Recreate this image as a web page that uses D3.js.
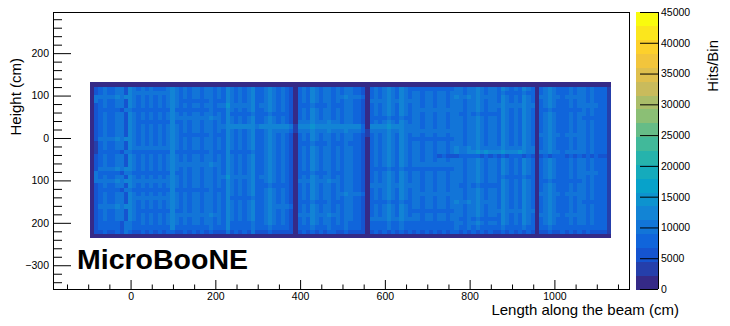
<!DOCTYPE html>
<html lang="en">
<head>
<meta charset="UTF-8">
<title>MicroBooNE hits per bin</title>
<script src="https://cdn.jsdelivr.net/npm/d3@7"></script>
<style>
  body { margin: 0; background: #fff; }
  svg { display: block; font-family: "Liberation Sans", Arial, Helvetica, sans-serif; }
  .axis text { font-size: 10.5px; fill: #000; }
  .axis line, .axis path { stroke: #000; }
  .axis-title { font-size: 15px; fill: #000; }
  .brand { font-size: 28.5px; font-weight: bold; fill: #000; }
  .cells rect, .bar rect { shape-rendering: crispEdges; }
</style>
</head>
<body>
<div id="chart"></div>
<script>
// ---- values ----
const xRange = [-183, 1176];
const yRange = [-356, 297];
const zRange = [0, 45000];
const nContours = 20;

const xTicks = [0, 200, 400, 600, 800, 1000];
const xTickLabels = ["0", "200", "400", "600", "800", "1000"];
const yTicks = [200, 100, 0, -100, -200, -300];
const yTickLabels = ["200", "100", "0", "100", "200", "\u2212300"];
const zTicks = [0, 5000, 10000, 15000, 20000, 25000, 30000, 35000, 40000, 45000];
const zTickLabels = ["0", "5000", "10000", "15000", "20000", "25000", "30000", "35000", "40000", "45000"];

// histogram extent (cm): 123 bins along x, 37 bins along y
const histX = [-96, 1134];
const histY = [-236, 131];

// hits per bin in thousands, one character per bin (0-9, a=10, b=11, ...), top row first
const hitRows = [
  "1 | 1111111111 1111111111 1111111111 1111111111 1111111 | 1 | 1111111111 111111 | 1 | 1111111111 1111111111 1111111111 111111111 | 1 | 1111111111 111111 | 1",
  "1 | 68988a96b9 89898889b9 8989989a89 8c98989b78 9b98986 | 1 | 898b989a89 8a9886 | 1 | 8989b98b98 8888888888 a98a9b9899 8b9898b98 | 1 | 89b9878989 989877 | 3",
  "1 | 68988a96b9 9a9a99a9ca 8989989a89 8c98989b78 9b98986 | 1 | 898b989a89 8a9886 | 1 | 8989b98b98 9989989989 a98a9b9899 8a8888a88 | 1 | 89b9878989 989877 | 3",
  "1 | 99a99b9bca 89898989b9 8989989a89 8c98989b78 9b98986 | 1 | 898b989a89 9b9a97 | 1 | 8989b98b98 9989989989 ba9bacaa9a 8b9898b98 | 1 | 9aca989a9a 989877 | 3",
  "1 | a8988a96b9 89898989b9 8888888988 8c98989b78 9b98986 | 1 | 898b989a89 8a9886 | 1 | 9a9ac9ac9a 9989989989 a98a9b9899 8b9898b98 | 1 | 89b9878989 989877 | 3",
  "1 | 68988a96b9 89898989b9 8989989a89 9d9a9a9c8a 9b98986 | 1 | 888a888988 8a9886 | 1 | 8989b98b98 9989989989 a98a9b9899 9caa9ac9a | 1 | 89b9878989 9a9988 | 3",
  "1 | 6888886a98 88888888b8 8888888988 8c98989b78 9b98986 | 1 | 898b989a89 8a9886 | 1 | 8989b98b98 aa9aa9aa9a a98a9b9899 8b9898b98 | 1 | 88a8878888 989877 | 3",
  "1 | 68988a96b9 89898989b9 8989989a89 8b88888a78 8a88886 | 1 | 898b989a89 8a9886 | 1 | 8989b98b98 9989989989 9889898888 8b9898b98 | 1 | 89b9878989 989877 | 3",
  "1 | 68988a96b9 89898989b9 9a9a99ab9a 8c98989b78 9b98986 | 1 | 898b989a89 8a9886 | 1 | 8888a88a88 9989989989 a98a9b9899 8b9898b98 | 1 | 89b9878989 888877 | 3",
  "1 | 68988a96b9 88888888b8 8989989a89 8c98989b78 9b98986 | 1 | 9a9caa9b9a 8a9886 | 1 | 8989b98b98 9989989989 a98a9b9899 8b9898b98 | 1 | 89b9878989 989877 | 3",
  "1 | 68988a96b9 89898989b9 8989989a89 9cbcbcbcac cbcbcb9 | 3 | cbcdcbcbcb cbcbc7 | 1 | bcbcdbcb9a 9989989989 a98a9b9899 8b9898b98 | 1 | 89b9878989 989877 | 3",
  "1 | 68988a96b9 89898989b9 8989989a89 8c98989b78 ac9a9a7 | 3 | 9a9caa9b9a 9b9a97 | 3 | 9a9ac9ac9a aa9aa9aa9a a98a9b9899 8b9898b98 | 1 | 89b9878989 989877 | 3",
  "1 | 68988a96b9 89898989b9 8888888988 8c98989b78 9b98986 | 1 | 898b989a89 8a9886 | 3 | 8989b98b98 9989989989 a98a9b9899 8b9898b98 | 1 | 9aca989a9a 989877 | 3",
  "1 | 69a99b9bca 89898989b9 8989989a89 8c98989b78 9b98986 | 1 | 898b989a89 8a9886 | 1 | 8989b98b98 8888888888 a98a9b9899 8b9898b98 | 1 | 89b9878989 989877 | 3",
  "1 | 38988a96b9 89898989b9 8989989a89 8c98989b78 9b98986 | 1 | 888a888988 898886 | 1 | 8989b98b98 9989989989 a98a9b9899 8b9898b98 | 1 | 89b9878989 989877 | 3",
  "1 | 38988a96b9 9a9a99a9ca 8989989a89 8c98989b78 9b98986 | 1 | 898b989a89 8a9886 | 1 | 8989b98b98 9989989989 ba9bacaa9a 9caa9ac9a | 1 | 89b9878989 989877 | 3",
  "1 | 3888886a98 88888888b8 8888888988 8b88888a78 9b98986 | 1 | 898b989a89 8a9886 | 1 | 8989b98b98 9989989989 ba9bcdcdcb cdcbcdc9a | 1 | 9aca989a9a 989877 | 3",
  "1 | 68988a96b9 89898989b9 8989989a89 8c98989b78 9b98986 | 1 | 898b989a89 8a9886 | 1 | 8989b98b98 9989986866 6878786868 686878686 | 1 | 6868786868 686866 | 3",
  "1 | 68988a96b9 89898989b9 8989a89a89 8c98989b78 9b98986 | 1 | 898b989a89 8a9886 | 1 | 8989b98b98 9989989989 a98a9b9899 8b9898b98 | 1 | 89b9878989 989877 | 3",
  "1 | 68988a96b9 89898989b9 9a9a99ab9a 8c98989b78 9b98986 | 1 | 898b989a89 8a9886 | 1 | 8989b98b98 aa9aa9aa9a a98a9b9899 8b9898b98 | 1 | 89b9878989 989877 | 3",
  "1 | 69a99b9bca 89898989b9 8989989a89 8c98989b78 9b98986 | 1 | 898b989a89 8a9886 | 1 | 8888a88a88 8888888888 a98a9b9899 8b9898b98 | 1 | 89b9878989 989877 | 3",
  "1 | 9888886a98 88888888b8 8989989a89 8c98989b78 9b98986 | 1 | 888a888988 8a9886 | 1 | 8989b98b98 9989989989 a98a9b9899 8b9898b98 | 1 | 89b9878989 9a9988 | 3",
  "1 | a8988a96b9 89898989b9 8989989a89 9d9a9a9c8a 9b98986 | 1 | 898b989a89 8a9886 | 1 | 8989b98b98 9989989989 a98a9b9899 8a8888a88 | 1 | 89b9878989 989877 | 3",
  "1 | a9a99b9bca 9a9a99a9ca 8989989a89 8c98989b78 9b98986 | 1 | 9a9caa9b9a 8a9886 | 1 | 8989b98b98 9989989989 a98a9b9899 8b9898b98 | 1 | 88a8878888 989877 | 3",
  "1 | 68988a96b9 89898989b9 8989989a89 8c98989b78 8a88886 | 1 | 898b989a89 8a9886 | 1 | 9a9ac9ac9a 9989989989 9889898888 8b9898b98 | 1 | 89b9878989 989877 | 3",
  "1 | 6888886a98 88888888b8 8888888988 8c98989b78 9b98986 | 1 | 898b989a89 8a9886 | 1 | 8989b98b98 9989989989 a98a9b9899 8b9898b98 | 1 | 89b9878989 989877 | 3",
  "1 | 68988a96b9 89898989b9 8989989a89 8c98989b78 9b98986 | 1 | 898b989a89 9b9a97 | 1 | 8989b98b98 aa9aa9aa9a a98a9b9899 8b9898b98 | 1 | 9aca989a9a 989877 | 3",
  "1 | 68988a96b9 9a9a99a9ca 8989989a89 8b88888a78 9b98986 | 1 | 898b989a89 8a9886 | 1 | 8989b98b98 9989989989 a98a9b9899 8b9898b98 | 1 | 89b9878989 989877 | 3",
  "1 | 68988a96b9 89898989b9 8989989a89 8c98989b78 9b98986 | 1 | 888a888988 8a9886 | 1 | 8888a88a88 9989989989 ba9bacaa9a 8b9898b98 | 1 | 89b9878989 888877 | 3",
  "1 | 69a99b9bca 89898989b9 8989989a89 8c98989b78 ac9a9a7 | 1 | 898b989a89 8a9886 | 1 | 8989b98b98 9989989989 a98a9b9899 8b9898b98 | 1 | 89b9878989 989877 | 3",
  "1 | 68988a96b9 88888888b8 8989989a89 8c98989b78 9b98986 | 1 | 898b989a89 8a9886 | 1 | 8989b98b98 8888888888 a98a9b9899 9caa9ac9a | 1 | 89b9878989 989877 | 3",
  "1 | 68988a96b9 89898989b9 9a9a99ab9a 8c98989b78 9b98986 | 1 | 9a9caa9b9a 8a9886 | 1 | 8989b98b98 9989989989 a98a9b9899 8b9898b98 | 1 | 9aca989a9a 989877 | 3",
  "1 | 68988a96b9 89898989b9 8989989a89 8c98989b78 9b98986 | 1 | 898b989a89 8a9886 | 1 | 9a9ac9ac9a 9989989989 9889898888 8b9898b98 | 1 | 89b9878989 989877 | 3",
  "1 | 6888886a98 89898989b9 8989989a89 8b88888a78 9b98986 | 1 | 898b989a89 898886 | 1 | 8888a88a88 8888888888 a98a9b9899 8b9898b98 | 1 | 89b9878989 989877 | 3",
  "1 | 6888886a98 88888888b8 8888888988 8b88888a78 8a88886 | 1 | 888a888988 898886 | 1 | 8888a88a88 8888888888 9889898888 8a8888a88 | 1 | 88a8878888 888877 | 3",
  "1 | 6676676986 6767676786 6767676766 6967676966 6866666 | 1 | 6768676876 686666 | 1 | 6768686867 6767676767 7676867676 686767686 | 1 | 6686676767 676666 | 3",
  "1 | 1111111111 1111111111 1111111111 1111111111 1111111 | 1 | 1111111111 111111 | 1 | 1111111111 1111111111 1111111111 111111111 | 1 | 1111111111 111111 | 1"
];

// ROOT kBird palette
const birdStops = [0.0, 0.125, 0.25, 0.375, 0.5, 0.625, 0.75, 0.875, 1.0];
const birdRed   = [0.2082, 0.0592, 0.0780, 0.0232, 0.1802, 0.5301, 0.8186, 0.9956, 0.9764];
const birdGreen = [0.1664, 0.3599, 0.5041, 0.6419, 0.7178, 0.7492, 0.7328, 0.7862, 0.9832];
const birdBlue  = [0.5293, 0.8684, 0.8385, 0.7914, 0.6425, 0.4662, 0.3499, 0.1968, 0.0539];

// ---- drawing ----
const width = 730, height = 326;
const frame = { left: 53, right: 629, top: 12, bottom: 289 };
const bar = { left: 636, right: 658 };

const svg = d3.select("#chart").append("svg")
    .attr("width", width)
    .attr("height", height);

const x = d3.scaleLinear().domain(xRange).range([frame.left, frame.right]);
const y = d3.scaleLinear().domain(yRange).range([frame.bottom, frame.top]);
const z = d3.scaleLinear().domain(zRange).range([frame.bottom, frame.top]);

const bird = d3.scaleLinear()
    .domain(birdStops)
    .range(birdStops.map((s, i) => d3.rgb(birdRed[i] * 255, birdGreen[i] * 255, birdBlue[i] * 255)))
    .interpolate(d3.interpolateRgb);

// one colour per contour level, first level = start of palette, last = end
function levelColor(k) {
    return bird(k / (nContours - 1));
}
const levelSize = (zRange[1] - zRange[0]) / nContours;
function valueColor(v) {
    const k = Math.max(0, Math.min(nContours - 1, Math.floor((v - zRange[0]) / levelSize)));
    return levelColor(k);
}

// cells
const rows = hitRows.map(r => r.replace(/[^0-9a-z]/g, ""));
const nx = rows[1].length, ny = rows.length;
const bx = (histX[1] - histX[0]) / nx;
const by = (histY[1] - histY[0]) / ny;
const cells = [];
rows.forEach((r, j) => {
    for (let i = 0; i < r.length; i++) {
        cells.push({ i, j, v: parseInt(r[i], 36) * 1000 + 500 });
    }
});

svg.append("g").attr("class", "cells").selectAll("rect")
    .data(cells)
    .join("rect")
    .attr("x", d => x(histX[0] + d.i * bx))
    .attr("y", d => y(histY[1] - d.j * by))
    .attr("width", x(histX[0] + bx) - x(histX[0]) + 0.3)
    .attr("height", y(histY[1] - by) - y(histY[1]) + 0.3)
    .attr("fill", d => valueColor(d.v));

// frame
svg.append("rect")
    .attr("x", frame.left + 0.5)
    .attr("y", frame.top + 0.5)
    .attr("width", frame.right - frame.left)
    .attr("height", frame.bottom - frame.top)
    .attr("fill", "none")
    .attr("stroke", "#000");

// x axis, ticks inward
const xMinor = d3.range(-150, 1151, 50).filter(v => !xTicks.includes(v));
svg.append("g").attr("class", "axis")
    .attr("transform", `translate(0,${frame.bottom})`)
    .call(d3.axisBottom(x).tickValues(xMinor).tickSize(-4.5).tickFormat(""))
    .call(g => g.select(".domain").remove());
svg.append("g").attr("class", "axis")
    .attr("transform", `translate(0,${frame.bottom})`)
    .call(d3.axisBottom(x).tickValues(xTicks).tickSize(-9).tickPadding(4)
        .tickFormat((d, i) => xTickLabels[i]))
    .call(g => g.select(".domain").remove());

// y axis, ticks inward
const yMinor = d3.range(-340, 281, 20).filter(v => !yTicks.includes(v));
svg.append("g").attr("class", "axis")
    .attr("transform", `translate(${frame.left},0)`)
    .call(d3.axisLeft(y).tickValues(yMinor).tickSize(-9).tickFormat(""))
    .call(g => g.select(".domain").remove());
svg.append("g").attr("class", "axis")
    .attr("transform", `translate(${frame.left},0)`)
    .call(d3.axisLeft(y).tickValues(yTicks).tickSize(-18).tickPadding(4)
        .tickFormat((d, i) => yTickLabels[i]))
    .call(g => g.select(".domain").remove());

// colour bar
const levels = d3.range(nContours);
svg.append("g").attr("class", "bar").selectAll("rect")
    .data(levels)
    .join("rect")
    .attr("x", bar.left)
    .attr("y", k => z(zRange[0] + (k + 1) * levelSize))
    .attr("width", bar.right - bar.left)
    .attr("height", k => z(zRange[0] + k * levelSize) - z(zRange[0] + (k + 1) * levelSize) + 0.5)
    .attr("fill", k => levelColor(k));

svg.append("g").attr("class", "axis")
    .attr("transform", `translate(${bar.right},0)`)
    .call(d3.axisRight(z).tickValues(zTicks).tickSize(-18).tickPadding(3)
        .tickFormat((d, i) => zTickLabels[i]))
    .call(g => g.select(".domain").attr("d", `M0.5,${frame.top}V${frame.bottom}`));

// titles
svg.append("text")
    .attr("class", "axis-title")
    .attr("x", 679)
    .attr("y", 315)
    .attr("text-anchor", "end")
    .text("Length along the beam (cm)");

svg.append("text")
    .attr("class", "axis-title")
    .attr("transform", "translate(21,58) rotate(-90)")
    .attr("text-anchor", "end")
    .text("Height (cm)");

svg.append("text")
    .attr("class", "axis-title")
    .attr("transform", "translate(718,40) rotate(-90)")
    .attr("text-anchor", "end")
    .text("Hits/Bin");

svg.append("text")
    .attr("class", "brand")
    .attr("x", 77)
    .attr("y", 269)
    .text("MicroBooNE");
</script>
</body>
</html>
